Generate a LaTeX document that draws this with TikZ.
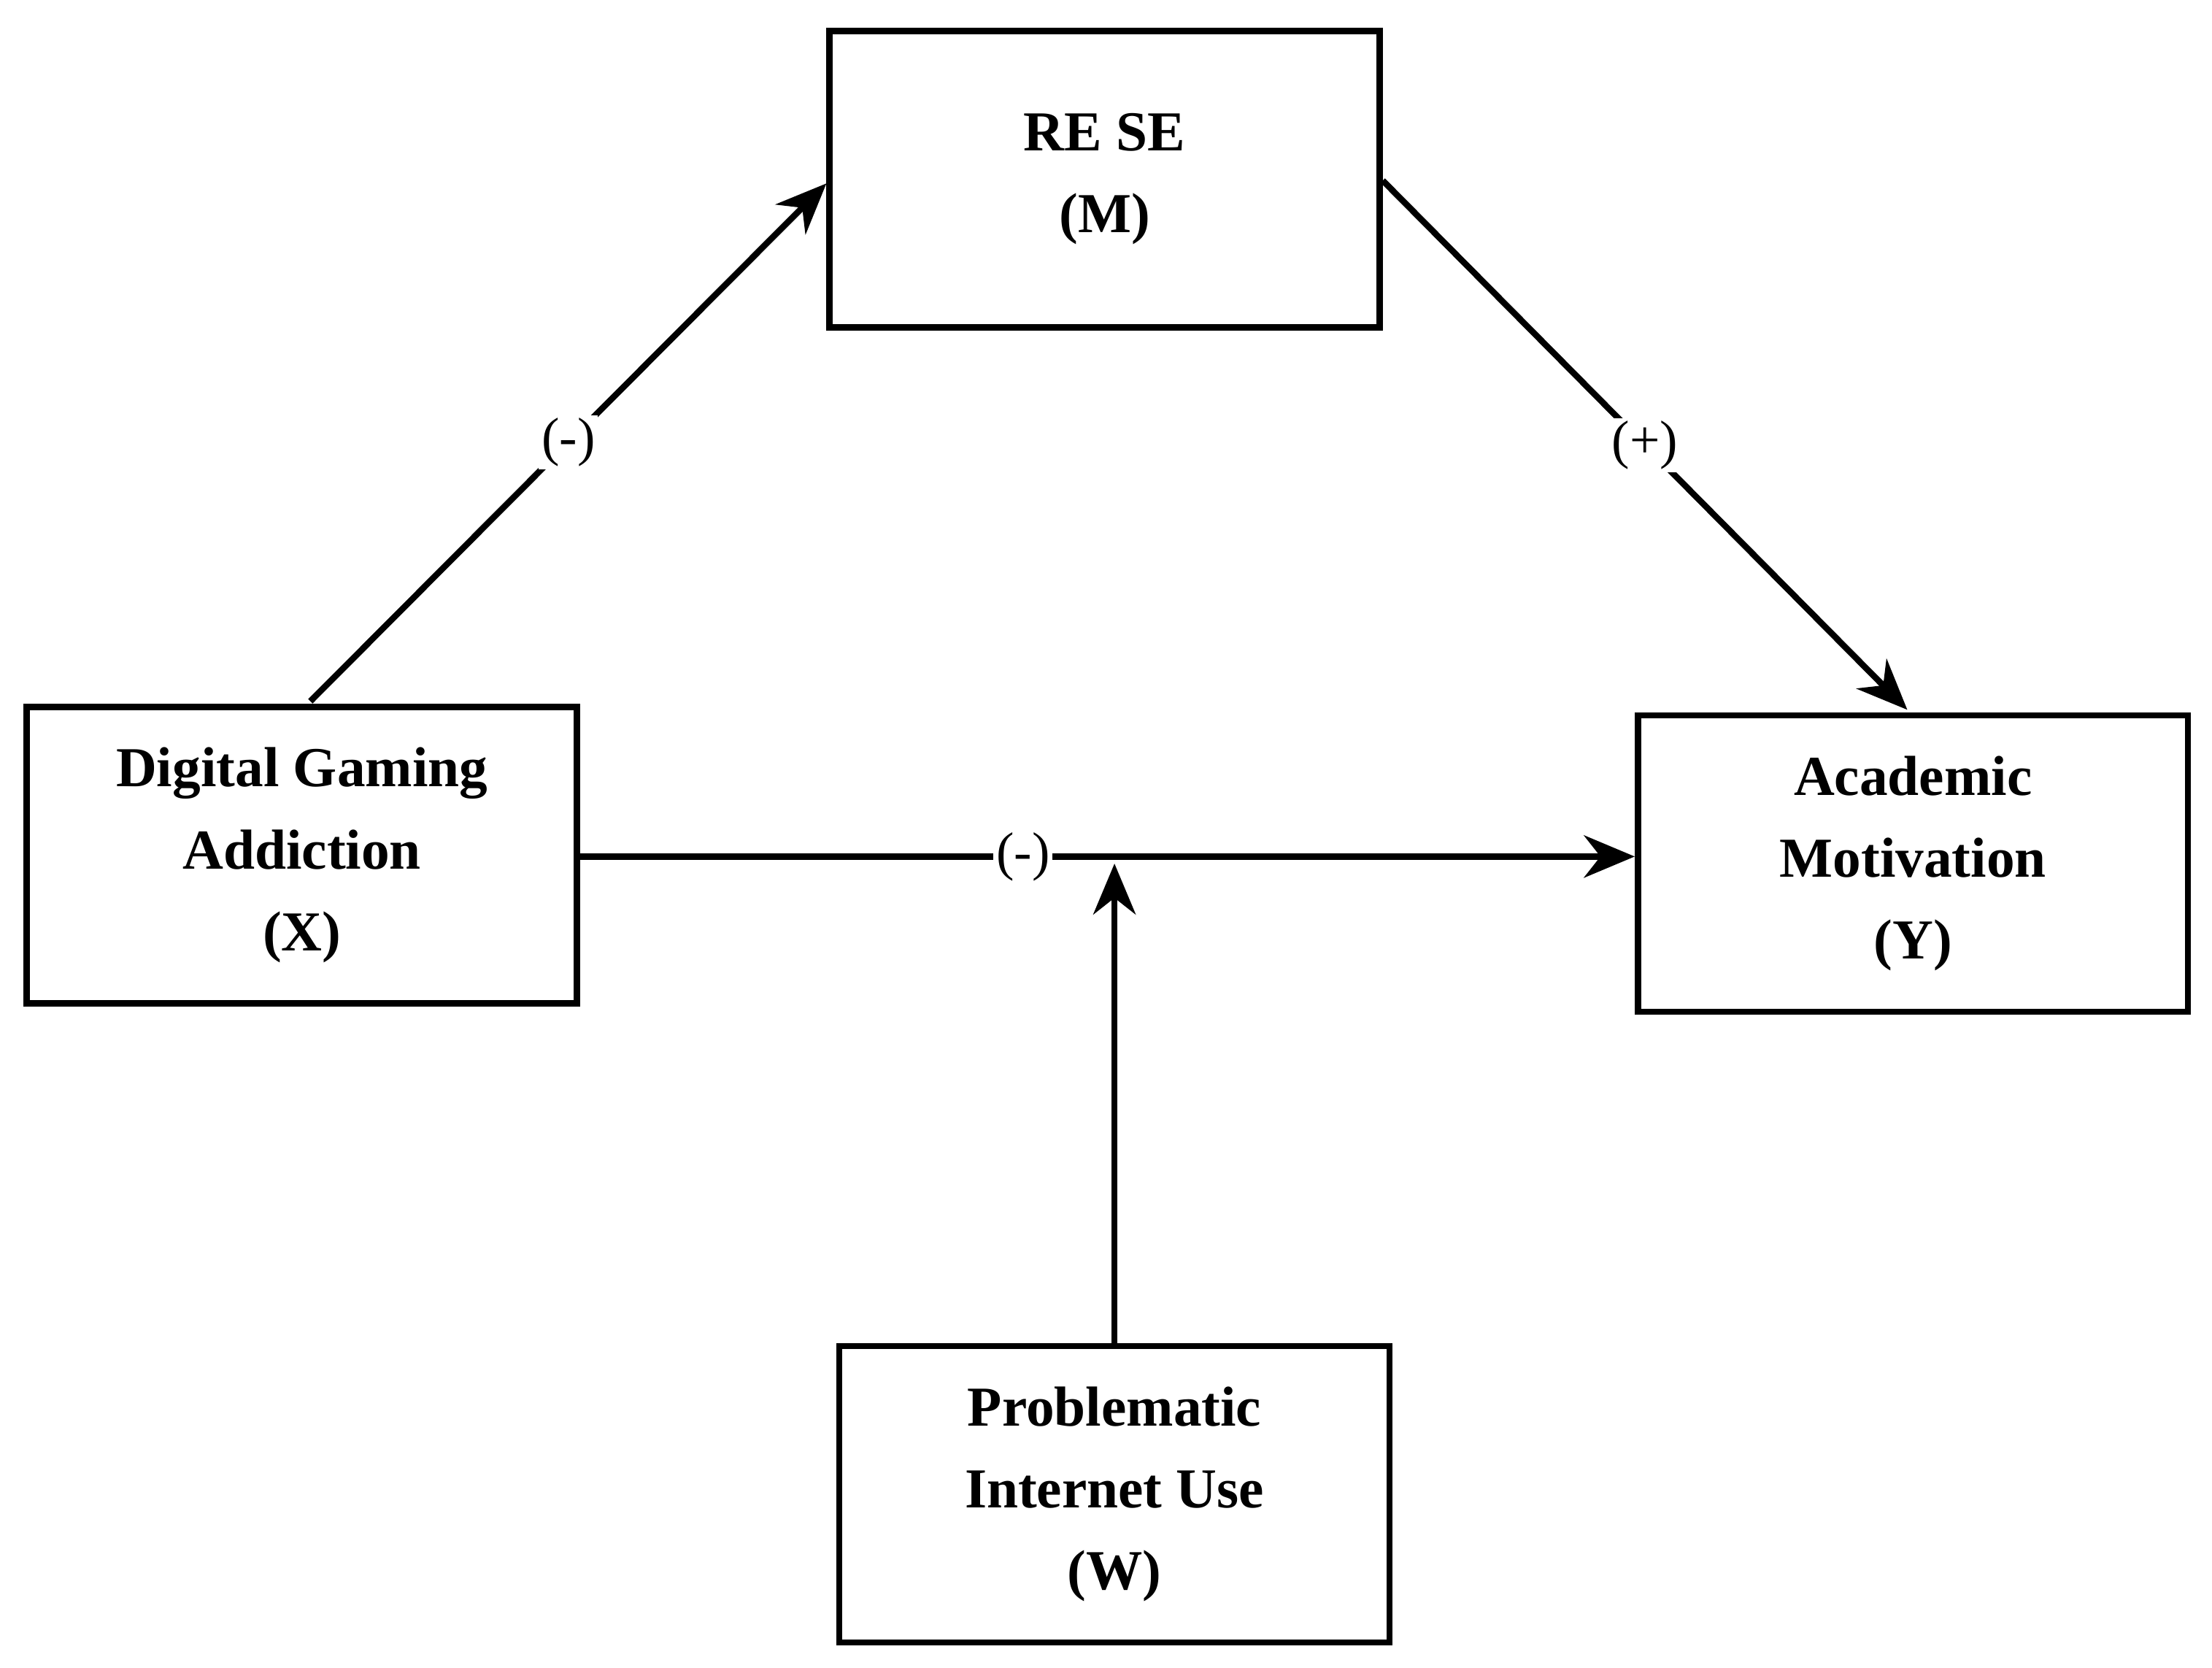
\documentclass[tikz,border=0pt]{standalone}
\usepackage{fontspec}
\setmainfont{Liberation Serif}
\usetikzlibrary{arrows.meta}
\begin{document}
\begin{tikzpicture}[x=0.5pt,y=-0.5pt,
  box/.style={draw,line width=2.2pt,minimum width=195pt,minimum height=105pt,align=center,font=\fontsize{20}{29}\selectfont\bfseries,inner sep=0pt},
  conn/.style={line width=2.2pt,-{Stealth[length=18pt,width=15pt]}},
  lab/.style={fill=white,font=\fontsize{19}{20}\selectfont,inner sep=1pt}]
\useasboundingbox (0,0) rectangle (1568,1182);
\node[box] (m) at (783,127) {RE SE\\(M)};
\node[box] (x) at (214,606) {Digital Gaming\\Addiction\\(X)};
\node[box] (y) at (1356,612) {Academic\\Motivation\\(Y)};
\node[box] (w) at (790,1059) {Problematic\\Internet Use\\(W)};
\coordinate (mid) at (790,612);
\draw[conn] (220,497) -- (m.west |- 0,130) node[lab,pos=0.5] {(-)};
\draw[conn] (m.east |- 0,128) -- (1352,503) node[lab,pos=0.5] {(+)};
\draw[conn] (x.east |- 0,607) -- (y.west |- 0,607) node[lab,pos=0.42] {(-)};
\draw[conn] (w.north) -- (mid);
\end{tikzpicture}
\end{document}
